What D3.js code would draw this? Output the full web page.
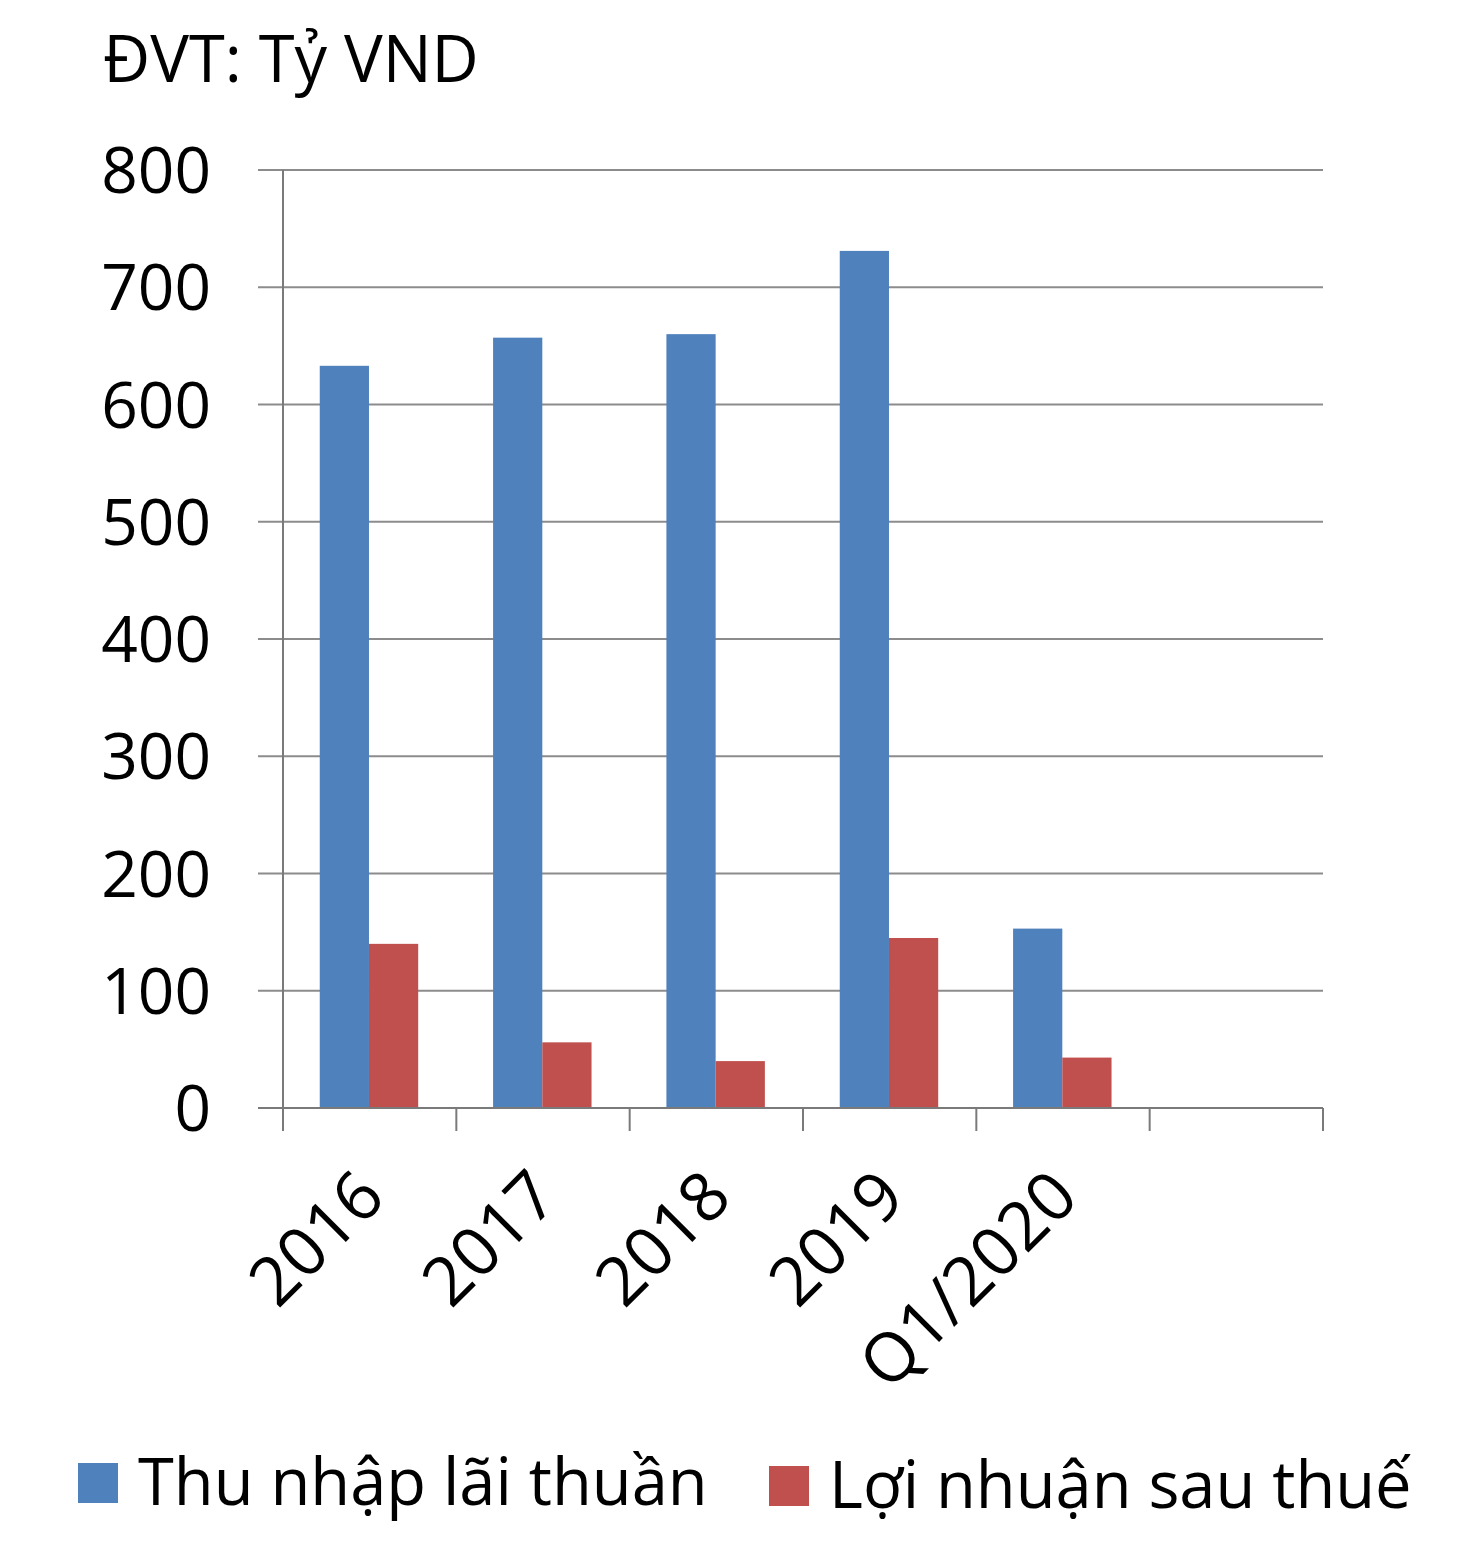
<!DOCTYPE html>
<html>
<head>
<meta charset="utf-8">
<script src="https://cdn.jsdelivr.net/npm/d3@7"></script>
<style>
  body { margin: 0; background: #fff; }
  svg { display: block; font-family: "Open Sans", "Noto Sans", sans-serif; }
</style>
</head>
<body>
<svg id="chart"></svg>
<script>
// dữ liệu
const categories = ["2016", "2017", "2018", "2019", "Q1/2020"];
const seriesNames = ["Thu nhập lãi thuần", "Lợi nhuận sau thuế"];
const netInterest = [633, 657, 660, 731, 153];
const profitAfterTax = [140, 56, 40, 145, 43];
const yTicks = [0, 100, 200, 300, 400, 500, 600, 700, 800];
const unitLabel = "ĐVT: Tỷ VND";
const colors = ["#4F81BD", "#C0504D"];

const W = 1478, H = 1557;
const svg = d3.select("#chart").attr("width", W).attr("height", H);

// 5 nhóm + 1 ô trống cuối trục
const slots = categories.concat([" "]);
const x0 = d3.scaleBand().domain(slots).range([283, 1323]).padding(0);
const x1 = d3.scaleBand().domain(seriesNames)
    .range([x0.step() * 0.212, x0.step() * 0.78]);
const y = d3.scaleLinear().domain([0, 800]).range([1108, 170]);

// đường lưới
svg.append("g")
    .selectAll("line")
    .data(yTicks)
    .join("line")
    .attr("x1", 258).attr("x2", 1323)
    .attr("y1", d => y(d)).attr("y2", d => y(d))
    .attr("stroke", "#8c8c8c")
    .attr("stroke-width", 2);

// nhãn trục Y
svg.append("g")
    .selectAll("text")
    .data(yTicks)
    .join("text")
    .attr("x", 211)
    .attr("y", d => y(d))
    .attr("dy", "0.36em")
    .attr("text-anchor", "end")
    .attr("font-size", 64)
    .attr("fill", "#000")
    .text(d => d);

// trục Y
svg.append("line")
    .attr("x1", 283).attr("x2", 283)
    .attr("y1", y(800)).attr("y2", y(0) + 23)
    .attr("stroke", "#7a7a7a").attr("stroke-width", 2);

// vạch chia trục X
const boundaries = slots.map(s => x0(s) + x0.step()).concat([x0(slots[0])]);
svg.append("g")
    .selectAll("line")
    .data(boundaries)
    .join("line")
    .attr("x1", d => d).attr("x2", d => d)
    .attr("y1", y(0)).attr("y2", y(0) + 23)
    .attr("stroke", "#7a7a7a").attr("stroke-width", 2);

// cột
const rows = categories.map((c, i) => ({cat: c, values: [netInterest[i], profitAfterTax[i]]}));
svg.append("g")
    .selectAll("g")
    .data(rows)
    .join("g")
    .attr("transform", d => `translate(${x0(d.cat)},0)`)
    .selectAll("rect")
    .data(d => d.values.map((v, k) => ({name: seriesNames[k], value: v, k: k})))
    .join("rect")
    .attr("x", d => x1(d.name))
    .attr("width", x1.bandwidth())
    .attr("y", d => y(d.value))
    .attr("height", d => y(0) - y(d.value))
    .attr("fill", d => colors[d.k]);

// trục X (đường đáy) vẽ trên cột
svg.append("line")
    .attr("x1", 258).attr("x2", 1323)
    .attr("y1", y(0)).attr("y2", y(0))
    .attr("stroke", "#7a7a7a").attr("stroke-width", 2);

// nhãn trục X xoay 45 độ
svg.append("g")
    .selectAll("text")
    .data(categories)
    .join("text")
    .attr("transform", d => `translate(${x0(d) + x0.bandwidth() / 2 + 18},${y(0) + 92}) rotate(-45)`)
    .attr("text-anchor", "end")
    .attr("font-size", 68)
    .attr("fill", "#000")
    .text(d => d);

// đơn vị
svg.append("text")
    .attr("x", 103).attr("y", 82)
    .attr("font-size", 65)
    .attr("fill", "#000")
    .text(unitLabel);

// chú thích
const legendX = [78, 769];
const legend = svg.append("g")
    .selectAll("g")
    .data(seriesNames)
    .join("g")
    .attr("transform", (d, i) => `translate(${legendX[i]},${1463 + i * 3})`);
legend.append("rect")
    .attr("width", 40).attr("height", 40)
    .attr("fill", (d, i) => colors[i]);
legend.append("text")
    .attr("x", 60).attr("y", 42)
    .attr("font-size", 65)
    .attr("fill", "#000")
    .text(d => d);
</script>
</body>
</html>
